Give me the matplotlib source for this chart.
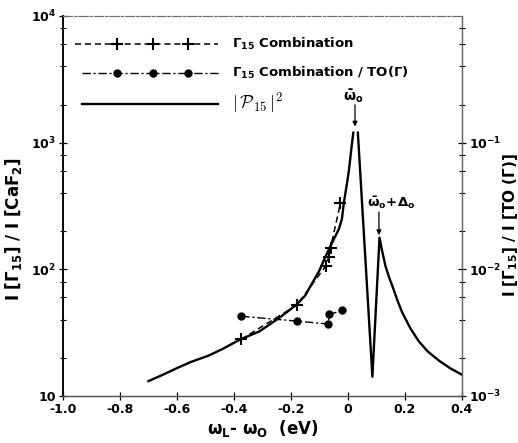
import numpy as np
import matplotlib
matplotlib.use('Agg')
import matplotlib.pyplot as plt
from matplotlib.ticker import FixedLocator, FixedFormatter, LogLocator, NullFormatter
from matplotlib.lines import Line2D

plt.rcParams['font.family'] = ['DejaVu Sans']
plt.rcParams['font.weight'] = 'bold'
plt.rcParams['mathtext.default'] = 'bf'

# |P15|^2 (solid); NaN marks the small gap at the top of the main peak
solid_x = [-0.70, -0.65, -0.60, -0.55, -0.49, -0.44, -0.38, -0.31, -0.24, -0.18,
           -0.15, -0.125, -0.10, -0.078, -0.055, -0.032, -0.021, -0.014, -0.005,
           0.0035, 0.011, 0.019, np.nan, 0.035, 0.086, 0.111, 0.12, 0.132, 0.145,
           0.156, 0.175, 0.19, 0.22, 0.249, 0.28, 0.32, 0.36, 0.401]
solid_y = [13.1, 14.7, 16.6, 18.6, 20.8, 23.5, 27.8, 32.4, 41.5, 52.7,
           62, 78, 98, 127, 163, 207, 249, 338, 450,
           600, 850, 1200, np.nan, 1200, 14.2, 178, 140, 106, 86,
           74, 56, 46, 34, 27, 22.5, 19, 16.5, 14.7]

# Gamma15 combination (dashed with + markers)
comb_x = [-0.375, -0.18, -0.078, -0.068, -0.061, -0.026]
comb_y = [28, 52, 106, 124, 148, 334]

# Gamma15 combination / TO(Gamma) (dash-dot with dots), right axis scale = left * 1e-4
ratio_x = [-0.374, -0.178, -0.069, -0.065, -0.02]
ratio_y = [42.6e-4, 39.0e-4, 37e-4, 44e-4, 47.5e-4]

xticks = [-1.0, -0.8, -0.6, -0.4, -0.2, 0.0, 0.2, 0.4]
xticklabels = ['-1.0', '-0.8', '-0.6', '-0.4', '-0.2', '0', '0.2', '0.4']
lyticks = [10, 100, 1000, 10000]
lyticklabels = ['10', r'$10^2$', r'$10^3$', r'$10^4$']
ryticks = [1e-3, 1e-2, 1e-1]
ryticklabels = [r'$10^{-3}$', r'$10^{-2}$', r'$10^{-1}$']

legend_labels = [r'$\Gamma_{15}$ Combination',
                 r'$\Gamma_{15}$ Combination / TO($\Gamma$)',
                 r'$|\,\mathcal{P}_{15}\,|^2$']

fig = plt.figure(figsize=(5.18, 4.43), dpi=100)
ax = fig.add_axes([0.1216, 0.1061, 0.770, 0.8578])
ax2 = ax.twinx()

ax.set_xlim(-1.0, 0.4)
ax.set_yscale('log')
ax.set_ylim(10, 1e4)
ax2.set_yscale('log')
ax2.set_ylim(1e-3, 1)

ax.plot(solid_x, solid_y, color='black', lw=1.7, solid_joinstyle='round')
ax.plot(comb_x, comb_y, color='black', lw=1.1, ls=(0, (4, 2.5)),
        marker='+', ms=9, mew=1.5)
ax2.plot(ratio_x, ratio_y, color='black', lw=1.0, ls=(0, (6, 2, 1.5, 2)),
         marker='o', ms=5)

# annotations
ax.annotate('', xy=(0.025, 1340), xytext=(0.025, 1990),
            arrowprops=dict(arrowstyle='-|>', color='black', lw=0.9,
                            mutation_scale=7, shrinkA=0, shrinkB=0))
ax.text(0.019, 2350, r'$\bar{\omega}_\mathrm{o}$', ha='center', va='center', fontsize=10)
ax.annotate('', xy=(0.109, 186), xytext=(0.109, 283),
            arrowprops=dict(arrowstyle='-|>', color='black', lw=0.9,
                            mutation_scale=7, shrinkA=0, shrinkB=0))
ax.text(0.066, 335, r'$\bar{\omega}_\mathrm{o}\!+\!\Delta_\mathrm{o}$', ha='left',
        va='center', fontsize=9.5)

# legend keys (drawn in axes fraction)
t = ax.transAxes
ax.add_line(Line2D([0.030, 0.388], [0.926, 0.926], transform=t, color='black',
                   lw=1.1, ls=(0, (4, 2.5))))
ax.add_line(Line2D([0.135, 0.226, 0.313], [0.926] * 3, transform=t, color='black',
                   ls='none', marker='+', ms=9, mew=1.5))
ax.add_line(Line2D([0.048, 0.388], [0.850, 0.850], transform=t, color='black',
                   lw=1.0, ls=(0, (6, 2, 1.5, 2))))
ax.add_line(Line2D([0.135, 0.226, 0.313], [0.850] * 3, transform=t, color='black',
                   ls='none', marker='o', ms=5))
ax.add_line(Line2D([0.048, 0.388], [0.768, 0.768], transform=t, color='black', lw=1.7))
for yy, lab, fs in zip([0.926, 0.850], legend_labels[:2], [9.5, 9.5]):
    ax.text(0.424, yy, lab, transform=t, ha='left', va='center', fontsize=fs)
ax.text(0.424, 0.772, legend_labels[2], transform=t, ha='left', va='center',
        fontsize=13, math_fontfamily='cm')

# ticks
ax.xaxis.set_major_locator(FixedLocator(xticks))
ax.xaxis.set_major_formatter(FixedFormatter(xticklabels))
ax.yaxis.set_major_locator(FixedLocator(lyticks))
ax.yaxis.set_major_formatter(FixedFormatter(lyticklabels))
ax.yaxis.set_minor_locator(LogLocator(base=10, subs=[2, 4, 6, 8]))
ax.yaxis.set_minor_formatter(NullFormatter())
ax2.yaxis.set_major_locator(FixedLocator(ryticks))
ax2.yaxis.set_major_formatter(FixedFormatter(ryticklabels))
ax2.yaxis.set_minor_locator(LogLocator(base=10, subs=[2, 4, 6, 8]))
ax2.yaxis.set_minor_formatter(NullFormatter())

for a in (ax, ax2):
    a.tick_params(which='major', direction='inout', length=6, width=0.9, labelsize=9, pad=2)
    a.tick_params(which='minor', direction='inout', length=4, width=0.8)
    a.xaxis.set_ticks_position('bottom')

for a in (ax, ax2):
    a.spines['top'].set_color('#707070')
    a.spines['top'].set_linewidth(0.8)
    a.spines['top'].set_linestyle((0, (8, 2, 2, 2)))
    a.spines['bottom'].set_color('#555555')
    a.spines['bottom'].set_linewidth(0.9)
    a.spines['left'].set_linewidth(1.1)
    a.spines['right'].set_color('#666666')
    a.spines['right'].set_linewidth(0.9)

ax.set_xlabel(r'$\omega_\mathrm{L}$- $\omega_\mathrm{O}$  (eV)', fontsize=12,
              fontweight='bold')
ax.xaxis.set_label_coords(0.5, -0.058)
ax.set_ylabel(r'I [$\Gamma_{15}$] / I [CaF$_2$]', fontsize=12, fontweight='bold')
ax.yaxis.set_label_coords(-0.097, 0.44)
ax2.set_ylabel(r'I [$\Gamma_{15}$] / I [TO ($\Gamma$)]', fontsize=11, fontweight='bold')
ax2.yaxis.set_label_coords(1.097, 0.45)

fig.savefig('out.png', dpi=100)
